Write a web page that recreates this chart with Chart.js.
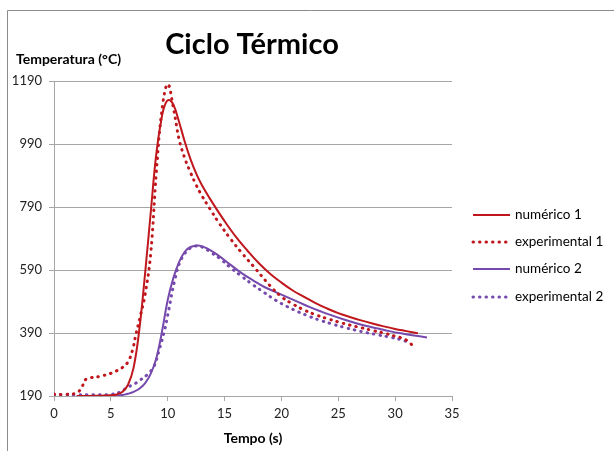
<!DOCTYPE html>
<html>
<head>
<meta charset="utf-8">
<script src="https://cdn.jsdelivr.net/npm/chart.js@4"></script>
<style>
  html, body { margin: 0; padding: 0; background: #fff; }
  #wrap { width: 614px; height: 451px; }
</style>
</head>
<body>
<div id="wrap"><canvas id="grafico" width="614" height="451"></canvas></div>
<script>
// valores
const numerico1T = [2, 4, 5, 5.5, 6, 6.5, 7, 7.5, 8, 8.5, 9, 9.5, 9.8, 10.1, 10.5, 11, 11.5, 12, 12.5, 13, 14, 15, 16, 17, 18, 19, 20, 21, 22, 23, 24, 25, 26, 27, 28, 29, 30, 31, 32];
const numerico1Y = [190, 190.5, 192, 195, 203, 225, 280, 400, 575, 770, 960, 1080, 1118, 1130, 1115, 1060, 997, 942, 897, 860, 800, 745, 695, 652, 612, 578, 550, 525, 505, 485, 468, 453, 441, 430, 420, 411, 403, 396, 389];

const experimental1T = [0, 1, 2, 2.4, 2.8, 3.2, 4, 5, 5.5, 6, 6.5, 6.9, 7.2, 7.6, 8, 8.5, 9, 9.5, 10, 10.5, 11, 11.5, 12, 12.5, 13, 13.7, 14.5, 15.5, 16.5, 17.7, 19, 20, 21, 22, 23, 24, 25, 26, 27, 28, 29, 30, 30.5, 31, 31.4, 31.7];
const experimental1Y = [196, 195, 200, 215, 243, 248, 252, 262, 270, 280, 298, 335, 385, 445, 510, 640, 900, 1100, 1180, 1105, 1005, 945, 900, 860, 826, 785, 740, 690, 645, 595, 540, 505, 482, 463, 448, 436, 425, 415, 407, 398, 390, 380, 375, 367, 355, 343];

const numerico2T = [2, 5, 6, 6.5, 7, 7.5, 8, 8.5, 9, 9.5, 10, 10.5, 11, 11.5, 12, 12.7, 13.5, 14.5, 15.5, 16.5, 17.5, 18.5, 19.5, 20.5, 21.5, 22.5, 23.5, 24.5, 25.5, 26.5, 27.5, 28.5, 29.5, 30.5, 31.5, 32.8];
const numerico2Y = [190, 191, 193, 197, 203, 213, 230, 260, 310, 395, 495, 565, 615, 648, 663, 668, 658, 635, 607, 580, 557, 536, 520, 504, 488, 472, 458, 445, 433, 422, 412, 404, 396, 389, 383, 376];

const experimental2T = [0, 1, 2, 3, 4, 5, 6, 6.3, 7.2, 7.6, 8.2, 8.8, 9.2, 9.7, 10.1, 10.6, 11.2, 12, 12.6, 13.2, 13.7, 14.6, 15.5, 16.5, 17.5, 18.5, 19.5, 20.5, 21.5, 22.5, 23.5, 24.5, 25.5, 26.5, 27.5, 28.5, 29.5, 30.5, 31.2];
const experimental2Y = [194, 194, 194, 194, 194, 195, 205, 214, 231, 241, 258, 285, 330, 395, 465, 555, 625, 660, 666, 660, 648, 626, 598, 570, 543, 518, 494, 474, 457, 442, 429, 418, 408, 399, 391, 384, 377, 369, 360];

const ticksX = [0, 5, 10, 15, 20, 25, 30, 35];
const ticksY = [190, 390, 590, 790, 990, 1190];

const nombres = ['numérico 1', 'experimental 1', 'numérico 2', 'experimental 2'];

const ROJO = '#C0171D';
const MORADO = '#7649AC';
const FUENTE = 'Lato, "Open Sans", sans-serif';

const puntos = (xs, ys) => xs.map((x, i) => ({ x, y: ys[i] }));

const serie = (label, xs, ys, color, punteada) => ({
  label,
  data: puntos(xs, ys),
  borderColor: color,
  backgroundColor: color,
  borderWidth: punteada ? 3 : 2,
  borderDash: punteada ? [0.5, 6] : [],
  borderCapStyle: punteada ? 'round' : 'butt',
  pointRadius: 0,
  tension: 0.4,
  fill: false
});

// textos, leyenda y marco
const textos = {
  id: 'textos',
  beforeDraw(chart) {
    const ctx = chart.ctx;
    ctx.save();
    ctx.strokeStyle = '#8c8c8c';
    ctx.lineWidth = 1;
    ctx.beginPath();
    ctx.moveTo(7.5, 451);
    ctx.lineTo(7.5, 10.5);
    ctx.lineTo(614, 10.5);
    ctx.stroke();
    ctx.restore();
  },
  afterDraw(chart) {
    const ctx = chart.ctx;
    ctx.save();
    ctx.fillStyle = '#000';
    ctx.textBaseline = 'middle';

    ctx.font = 'bold 29px ' + FUENTE;
    ctx.textAlign = 'center';
    ctx.fillText('Ciclo Térmico', 252, 45);

    ctx.font = 'bold 14px ' + FUENTE;
    ctx.textAlign = 'left';
    ctx.fillText('Temperatura (°C)', 16, 59);

    ctx.textAlign = 'center';
    ctx.fillText('Tempo (s)', 253, 438);

    const filas = [215, 242, 269, 297];
    chart.data.datasets.forEach((ds, i) => {
      const y = filas[i];
      ctx.strokeStyle = ds.borderColor;
      ctx.lineWidth = ds.borderWidth;
      ctx.lineCap = ds.borderCapStyle;
      ctx.setLineDash(ds.borderDash);
      ctx.beginPath();
      ctx.moveTo(473, y);
      ctx.lineTo(510, y);
      ctx.stroke();
      ctx.setLineDash([]);
      ctx.font = '13.5px ' + FUENTE;
      ctx.textAlign = 'left';
      ctx.fillStyle = '#000';
      ctx.fillText(ds.label, 515, y);
    });
    ctx.restore();
  }
};

new Chart(document.getElementById('grafico'), {
  type: 'line',
  data: {
    datasets: [
      serie(nombres[0], numerico1T, numerico1Y, ROJO, false),
      serie(nombres[1], experimental1T, experimental1Y, ROJO, true),
      serie(nombres[2], numerico2T, numerico2Y, MORADO, false),
      serie(nombres[3], experimental2T, experimental2Y, MORADO, true)
    ]
  },
  options: {
    responsive: false,
    animation: false,
    layout: { padding: { left: 0, right: 162, top: 81, bottom: 0 } },
    plugins: {
      legend: { display: false },
      title: { display: false },
      tooltip: { enabled: false }
    },
    scales: {
      x: {
        type: 'linear',
        min: 0,
        max: 35,
        afterBuildTicks: s => { s.ticks = ticksX.map(v => ({ value: v })); },
        afterFit: s => { s.height = 55; },
        grid: { drawOnChartArea: false, tickLength: 5, color: '#a6a6a6' },
        border: { color: '#a6a6a6' },
        ticks: { padding: 5, color: '#222', font: { family: FUENTE, size: 13 }, maxRotation: 0, callback: v => String(v) }
      },
      y: {
        type: 'linear',
        min: 190,
        max: 1190,
        afterBuildTicks: s => { s.ticks = ticksY.map(v => ({ value: v })); },
        afterFit: s => { s.width = 54; },
        grid: { tickLength: 5, color: '#a6a6a6' },
        border: { color: '#a6a6a6' },
        ticks: { padding: 7, color: '#222', font: { family: FUENTE, size: 13 }, callback: v => String(v) }
      }
    }
  },
  plugins: [textos]
});
</script>
</body>
</html>
